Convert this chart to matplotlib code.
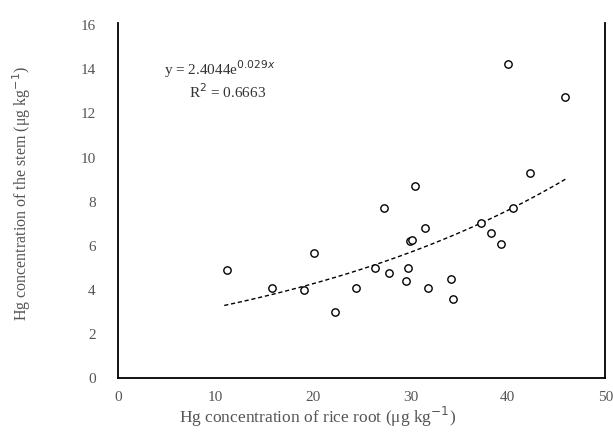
import numpy as np
import matplotlib.pyplot as plt

plt.rcParams['font.family'] = ['Liberation Serif', 'DejaVu Serif']

# Hg in rice root (x) vs stem (y)
root_hg = [11.2, 15.8, 19.1, 20.1, 22.3, 24.4, 26.4, 27.3, 27.8, 29.5, 29.8,
           30.0, 30.2, 30.5, 31.5, 31.8, 34.2, 34.4, 37.2, 38.3, 39.3, 40.0,
           40.5, 42.3, 45.9]
stem_hg = [4.9, 4.1, 4.0, 5.65, 3.0, 4.1, 5.0, 7.7, 4.75, 4.4, 5.0,
           6.2, 6.25, 8.7, 6.8, 4.1, 4.5, 3.6, 7.05, 6.6, 6.1, 14.25,
           7.7, 9.3, 12.75]

fit_a = 2.4044
fit_b = 0.0288

fig = plt.figure(figsize=(6.13, 4.36), dpi=100)
ax = fig.add_axes([0.1925, 0.133, 0.795, 0.814])

xf = np.linspace(10.9, 46.1, 100)
ax.plot(xf, fit_a * np.exp(fit_b * xf), color='black', linestyle=(0, (3, 2)), linewidth=1.0)
ax.scatter(root_hg, stem_hg, s=28, facecolors='white', edgecolors='black', linewidths=1.0, zorder=3)

ax.text(0.095, 0.855, 'y = 2.4044e$^{0.029x}$', transform=ax.transAxes, fontsize=11, color='#333333')
ax.text(0.145, 0.79, 'R$^2$ = 0.6663', transform=ax.transAxes, fontsize=11, color='#333333')

ax.set_xlim(0, 50)
ax.set_ylim(0, 16.1)
ax.set_xticks([0, 10, 20, 30, 40, 50])
ax.set_yticks(range(0, 17, 2))
ax.tick_params(length=0, labelsize=11, colors='#555555')
ax.tick_params(axis='y', pad=16)
ax.tick_params(axis='x', pad=9)
ax.spines['top'].set_visible(False)
for s in ['left', 'right', 'bottom']:
    ax.spines[s].set_linewidth(1.3)

ax.set_xlabel('Hg concentration of rice root (μg kg$^{-1}$)', fontsize=12.5, color='#555555')
ax.xaxis.set_label_coords(0.41, -0.075)
ax.set_ylabel('Hg concentration of the stem (μg kg$^{-1}$)', fontsize=11.5, color='#555555')
ax.yaxis.set_label_coords(-0.175, 0.52)

fig.savefig('out.png', dpi=100)
